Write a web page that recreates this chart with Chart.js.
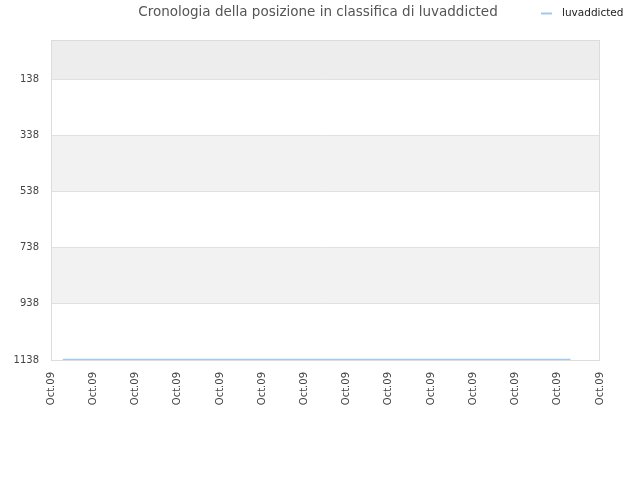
<!DOCTYPE html>
<html>
<head>
<meta charset="utf-8">
<script src="https://cdn.jsdelivr.net/npm/chart.js@4.4.1/dist/chart.umd.min.js"></script>
<style>
html,body{margin:0;padding:0;background:#fff;}
#wrap{width:640px;height:480px;position:relative;}
</style>
</head>
<body>
<div id="wrap"><canvas id="c" width="640" height="480"></canvas></div>
<script>
const titleText = "Cronologia della posizione in classifica di luvaddicted";
const seriesName = "luvaddicted";
const xTickLabels = ["Oct.09","Oct.09","Oct.09","Oct.09","Oct.09","Oct.09","Oct.09","Oct.09","Oct.09","Oct.09","Oct.09","Oct.09","Oct.09","Oct.09"];
const xPositions = [0.28, 12.3];
const rankValues = [1136, 1136];
const yTicks = [138, 338, 538, 738, 938, 1138];
const yMin = -2;
const yMax = 1138;

const bandsPlugin = {
  id: 'bands',
  beforeDraw(chart) {
    const {ctx, chartArea: a, scales: {y}} = chart;
    ctx.save();
    ctx.fillStyle = '#ededed';
    let yTop = y.getPixelForValue(yMin), yB = y.getPixelForValue(yTicks[0]);
    ctx.fillRect(a.left, yTop, a.right - a.left, yB - yTop);
    ctx.fillStyle = '#f2f2f2';
    for (let i = 1; i < yTicks.length - 1; i += 2) {
      const p1 = y.getPixelForValue(yTicks[i]);
      const p2 = y.getPixelForValue(yTicks[i + 1]);
      ctx.fillRect(a.left, p1, a.right - a.left, p2 - p1);
    }
    ctx.restore();
  },
  afterDraw(chart) {
    const {ctx, chartArea: a} = chart;
    ctx.save();
    ctx.strokeStyle = '#dcdcdc';
    ctx.lineWidth = 1;
    ctx.strokeRect(a.left + 0.5, a.top + 0.5, a.right - a.left - 1, a.bottom - a.top);
    // title
    ctx.fillStyle = '#555';
    ctx.font = '13.5px "DejaVu Sans"';
    ctx.textAlign = 'center';
    ctx.textBaseline = 'middle';
    ctx.fillText(titleText, 318, 12);
    // legend
    ctx.strokeStyle = '#a0c8f0';
    ctx.lineWidth = 2;
    ctx.beginPath();
    ctx.moveTo(541, 13.5);
    ctx.lineTo(552, 13.5);
    ctx.stroke();
    ctx.fillStyle = '#222';
    ctx.font = '10.5px "DejaVu Sans"';
    ctx.textAlign = 'left';
    ctx.fillText(seriesName, 562, 13);
    ctx.restore();
  }
};

new Chart(document.getElementById('c'), {
  type: 'line',
  data: {
    datasets: [{
      label: seriesName,
      data: xPositions.map((x, i) => ({x: x, y: rankValues[i]})),
      borderColor: '#a0c8f0',
      backgroundColor: '#a0c8f0',
      borderWidth: 1.5,
      pointRadius: 0,
      fill: false,
      tension: 0
    }]
  },
  options: {
    responsive: false,
    animation: false,
    layout: {padding: {left: 0, right: 40, top: 40, bottom: 0}},
    plugins: {legend: {display: false}, title: {display: false}, tooltip: {enabled: false}},
    scales: {
      x: {
        type: 'linear',
        min: 0,
        max: xTickLabels.length - 1,
        afterBuildTicks(scale) {
          scale.ticks = xTickLabels.map((_, i) => ({value: i}));
        },
        afterFit(scale) { scale.height = 120; },
        grid: {display: false, drawTicks: false},
        border: {display: false},
        ticks: {
          autoSkip: false,
          maxRotation: 90,
          minRotation: 90,
          padding: 12,
          color: '#444',
          font: {family: 'DejaVu Sans', size: 10},
          callback: (v, i) => xTickLabels[i]
        }
      },
      y: {
        type: 'linear',
        reverse: true,
        min: yMin,
        max: yMax,
        afterBuildTicks(scale) {
          scale.ticks = yTicks.map(v => ({value: v}));
        },
        afterFit(scale) { scale.width = 51; },
        grid: {color: '#e0e0e0', drawTicks: false},
        border: {display: false},
        ticks: {
          padding: 12,
          color: '#444',
          font: {family: 'DejaVu Sans', size: 10},
          callback: v => String(v)
        }
      }
    }
  },
  plugins: [bandsPlugin]
});
</script>
</body>
</html>
